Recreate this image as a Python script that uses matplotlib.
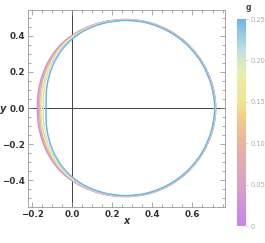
import numpy as np
import matplotlib
matplotlib.use("Agg")
import matplotlib.pyplot as plt
from matplotlib.colors import LinearSegmentedColormap, Normalize
from matplotlib.ticker import MultipleLocator
from matplotlib.path import Path
from matplotlib.patches import PathPatch

# g values of the plotted shadow curves
g_values = [0.0, 0.05, 0.10, 0.15, 0.20, 0.25]

# upper half of each shadow contour, read going round from the right edge
# to the left edge (the lower half is the mirror image)
curve_x = {
    0.0:  [0.716, 0.699, 0.653, 0.582, 0.490, 0.382, 0.268, 0.153, 0.044,
           -0.053, -0.123, -0.163, -0.174],
    0.05: [0.715, 0.698, 0.652, 0.581, 0.489, 0.382, 0.268, 0.153, 0.044,
           -0.051, -0.120, -0.159, -0.170],
    0.10: [0.714, 0.697, 0.652, 0.581, 0.488, 0.382, 0.268, 0.154, 0.045,
           -0.049, -0.116, -0.154, -0.163],
    0.15: [0.713, 0.696, 0.651, 0.580, 0.488, 0.382, 0.268, 0.154, 0.046,
           -0.047, -0.111, -0.146, -0.155],
    0.20: [0.712, 0.695, 0.650, 0.579, 0.487, 0.381, 0.268, 0.154, 0.047,
           -0.044, -0.106, -0.138, -0.145],
    0.25: [0.711, 0.694, 0.649, 0.578, 0.487, 0.381, 0.268, 0.155, 0.049,
           -0.039, -0.098, -0.127, -0.131],
}
curve_y = {
    0.0:  [0.0, 0.128, 0.247, 0.349, 0.426, 0.475, 0.491, 0.477, 0.432,
           0.357, 0.251, 0.128, 0.0],
    0.05: [0.0, 0.128, 0.247, 0.348, 0.425, 0.474, 0.490, 0.475, 0.431,
           0.355, 0.249, 0.127, 0.0],
    0.10: [0.0, 0.128, 0.246, 0.347, 0.424, 0.473, 0.489, 0.474, 0.429,
           0.352, 0.246, 0.126, 0.0],
    0.15: [0.0, 0.128, 0.246, 0.347, 0.423, 0.472, 0.488, 0.473, 0.427,
           0.350, 0.243, 0.123, 0.0],
    0.20: [0.0, 0.127, 0.245, 0.346, 0.422, 0.471, 0.487, 0.472, 0.425,
           0.347, 0.240, 0.121, 0.0],
    0.25: [0.0, 0.127, 0.244, 0.345, 0.421, 0.470, 0.486, 0.470, 0.422,
           0.341, 0.235, 0.118, 0.0],
}

cb_ticks = [0, 0.05, 0.10, 0.15, 0.20, 0.25]
cb_labels = ["0", "0.05", "0.10", "0.15", "0.20", "0.25"]

cmap = LinearSegmentedColormap.from_list("shadow", [
    (0.0, "#c685ec"), (0.2, "#d9a2c6"), (0.4, "#e9b39c"), (0.5, "#f0c78c"),
    (0.6, "#f1e58e"), (0.75, "#e6efb0"), (0.85, "#bfe0e0"), (1.0, "#6fb3ea")])
norm = Normalize(0, 0.25)


def smooth_closed_path(px, py):
    # closed cubic Bezier path through the points (Catmull-Rom tangents)
    pts = np.column_stack([px, py])
    n = len(pts)
    verts = [pts[0]]
    codes = [Path.MOVETO]
    for i in range(n):
        p0, p1, p2, p3 = pts[i - 1], pts[i], pts[(i + 1) % n], pts[(i + 2) % n]
        verts += [p1 + (p2 - p0) / 6, p2 - (p3 - p1) / 6, p2]
        codes += [Path.CURVE4] * 3
    return Path(verts, codes)


fig = plt.figure(figsize=(2.65, 2.43), dpi=100)
ax = fig.add_axes([0.1045, 0.149, 0.745, 0.810])

for g in g_values:
    xs = np.array(curve_x[g])
    ys = np.array(curve_y[g])
    xx = np.concatenate([xs, xs[-2:0:-1]])
    yy = np.concatenate([ys, -ys[-2:0:-1]])
    ax.add_patch(PathPatch(smooth_closed_path(xx, yy), fill=False,
                           edgecolor=cmap(norm(g)), lw=1.1))

ax.axhline(0, color="#444444", lw=0.7, zorder=0)
ax.axvline(0, color="#444444", lw=0.7, zorder=0)

ax.set_xlim(-0.223, 0.763)
ax.set_ylim(-0.548, 0.544)
ax.xaxis.set_major_locator(MultipleLocator(0.2))
ax.xaxis.set_minor_locator(MultipleLocator(0.05))
ax.yaxis.set_major_locator(MultipleLocator(0.2))
ax.yaxis.set_minor_locator(MultipleLocator(0.05))
ax.tick_params(which="both", direction="in", top=True, right=True, color="#888888",
               labelsize=6.3, width=0.5, pad=2)
ax.tick_params(which="major", length=3.5)
ax.tick_params(which="minor", length=2)
for lab in ax.get_xticklabels() + ax.get_yticklabels():
    lab.set_fontweight("bold")
    lab.set_color("#333333")
for s in ax.spines.values():
    s.set_color("#999999")
    s.set_linewidth(0.6)

fig.text(127 / 265, 1 - 221 / 243, "x", fontsize=7, fontweight="bold",
         fontstyle="italic", ha="center", va="center", color="#333333")
fig.text(3 / 265, 1 - 109 / 243, "y", fontsize=7, fontweight="bold",
         fontstyle="italic", ha="center", va="center", color="#333333")

cax = fig.add_axes([237 / 265, 1 - 226 / 243, 9 / 265, 207 / 243])
sm = plt.cm.ScalarMappable(norm=norm, cmap=cmap)
cb = fig.colorbar(sm, cax=cax, ticks=cb_ticks)
cb.ax.set_yticklabels(cb_labels)
cb.ax.tick_params(labelsize=4.8, colors="#aaaaaa", length=1.5, width=0.4, pad=2)
cb.outline.set_visible(False)
fig.text(248 / 265, 1 - 7 / 243, "g", fontsize=5.5, fontweight="bold",
         ha="center", va="center", color="#444444")

fig.savefig("out.png", dpi=100)
